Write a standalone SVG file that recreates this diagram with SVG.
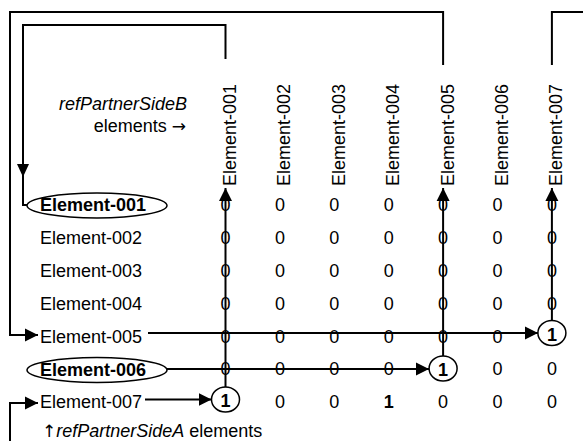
<svg xmlns="http://www.w3.org/2000/svg" width="583" height="441" viewBox="0 0 583 441">
<style>
text{font-family:"Liberation Sans",Arial,sans-serif;font-size:18px;fill:#000}
.b{font-weight:bold}
.i{font-style:italic}
.c{text-anchor:middle}
.r{text-anchor:end}
.ar{font-family:"DejaVu Sans",sans-serif;font-size:17px}
.ln{fill:none;stroke:#000;stroke-width:2}
.ov{fill:#fff;stroke:#000;stroke-width:1.5}
</style>
<defs>
<marker id="ah" markerUnits="userSpaceOnUse" markerWidth="14" markerHeight="14" viewBox="0 0 14 14" refX="13" refY="7" orient="auto">
<path d="M0,0.5 L13,7 L0,13.5 Z" fill="#000"/>
</marker>
</defs>
<rect width="583" height="441" fill="#fff"/>

<g id="captions">
<text class="i r" x="187" y="110">refPartnerSideB</text>
<text class="r" x="186" y="132">elements <tspan class="ar">→</tspan></text>
<text x="42" y="437"><tspan class="ar">↑</tspan><tspan class="i">refPartnerSideA</tspan> elements</text>
</g>

<g id="column-headers">
<text transform="translate(236,186) rotate(-90)">Element-001</text>
<text transform="translate(290.4,186) rotate(-90)">Element-002</text>
<text transform="translate(344.8,186) rotate(-90)">Element-003</text>
<text transform="translate(399.2,186) rotate(-90)">Element-004</text>
<text transform="translate(453.6,186) rotate(-90)">Element-005</text>
<text transform="translate(508,186) rotate(-90)">Element-006</text>
<text transform="translate(562.4,186) rotate(-90)">Element-007</text>
</g>

<g id="matrix" class="c">
<text x="225.5" y="211.3">0</text><text x="279.9" y="211.3">0</text><text x="334.3" y="211.3">0</text><text x="388.7" y="211.3">0</text><text x="443.1" y="211.3">0</text><text x="497.5" y="211.3">0</text><text x="551.9" y="211.3">0</text>
<text x="225.5" y="244.1">0</text><text x="279.9" y="244.1">0</text><text x="334.3" y="244.1">0</text><text x="388.7" y="244.1">0</text><text x="443.1" y="244.1">0</text><text x="497.5" y="244.1">0</text><text x="551.9" y="244.1">0</text>
<text x="225.5" y="276.9">0</text><text x="279.9" y="276.9">0</text><text x="334.3" y="276.9">0</text><text x="388.7" y="276.9">0</text><text x="443.1" y="276.9">0</text><text x="497.5" y="276.9">0</text><text x="551.9" y="276.9">0</text>
<text x="225.5" y="309.7">0</text><text x="279.9" y="309.7">0</text><text x="334.3" y="309.7">0</text><text x="388.7" y="309.7">0</text><text x="443.1" y="309.7">0</text><text x="497.5" y="309.7">0</text><text x="551.9" y="309.7">0</text>
<text x="225.5" y="342.5">0</text><text x="279.9" y="342.5">0</text><text x="334.3" y="342.5">0</text><text x="388.7" y="342.5">0</text><text x="443.1" y="342.5">0</text><text x="497.5" y="342.5">0</text>
<text x="225.5" y="375.3">0</text><text x="279.9" y="375.3">0</text><text x="334.3" y="375.3">0</text><text x="388.7" y="375.3">0</text><text x="497.5" y="375.3">0</text><text x="551.9" y="375.3">0</text>
<text x="279.9" y="408.1">0</text><text x="334.3" y="408.1">0</text><text class="b" x="388.7" y="408.1">1</text><text x="443.1" y="408.1">0</text><text x="497.5" y="408.1">0</text><text x="551.9" y="408.1">0</text>
</g>

<g id="connectors">
<path class="ln" d="M225.5,59 V25 H23 V205 H28"/>
<path d="M17,164 L29,164 L23,177 Z" fill="#000"/>
<path class="ln" d="M443.1,65 V12 H10 V335 H38" marker-end="url(#ah)"/>
<path class="ln" d="M551.9,65 V12 H583"/>
<path class="ln" d="M10,441 V403 H38" marker-end="url(#ah)"/>
<path class="ln" d="M145,399.5 H211.5" marker-end="url(#ah)"/>
<path class="ln" d="M225.5,387 V188" marker-end="url(#ah)"/>
<path class="ln" d="M167,369 H429" marker-end="url(#ah)"/>
<path class="ln" d="M443.1,356 V188" marker-end="url(#ah)"/>
<path class="ln" d="M148,333 H538" marker-end="url(#ah)"/>
<path class="ln" d="M551.9,320.5 V188" marker-end="url(#ah)"/>
</g>

<g id="row-labels">
<g id="row-001"><ellipse class="ov" cx="97" cy="205.5" rx="70" ry="12.5"/><text class="b" x="40" y="211.3">Element-001</text></g>
<g id="row-002"><text x="40" y="244.1">Element-002</text></g>
<g id="row-003"><text x="40" y="276.9">Element-003</text></g>
<g id="row-004"><text x="40" y="309.7">Element-004</text></g>
<g id="row-005"><text x="40" y="342.5">Element-005</text></g>
<g id="row-006"><ellipse class="ov" cx="97" cy="370" rx="70" ry="12.5"/><text class="b" x="40" y="376">Element-006</text></g>
<g id="row-007"><text x="40" y="408.1">Element-007</text></g>
</g>

<g id="hits" class="c">
<g id="hit-007-001"><ellipse class="ov" cx="225.5" cy="399.5" rx="14" ry="12.5"/><text class="b" x="225.5" y="406.5">1</text></g>
<g id="hit-006-005"><ellipse class="ov" cx="443.1" cy="368.5" rx="14" ry="12.5"/><text class="b" x="443.1" y="375.5">1</text></g>
<g id="hit-005-007"><ellipse class="ov" cx="551.9" cy="333" rx="14" ry="12.5"/><text class="b" x="551.9" y="340.5">1</text></g>
</g>
</svg>
